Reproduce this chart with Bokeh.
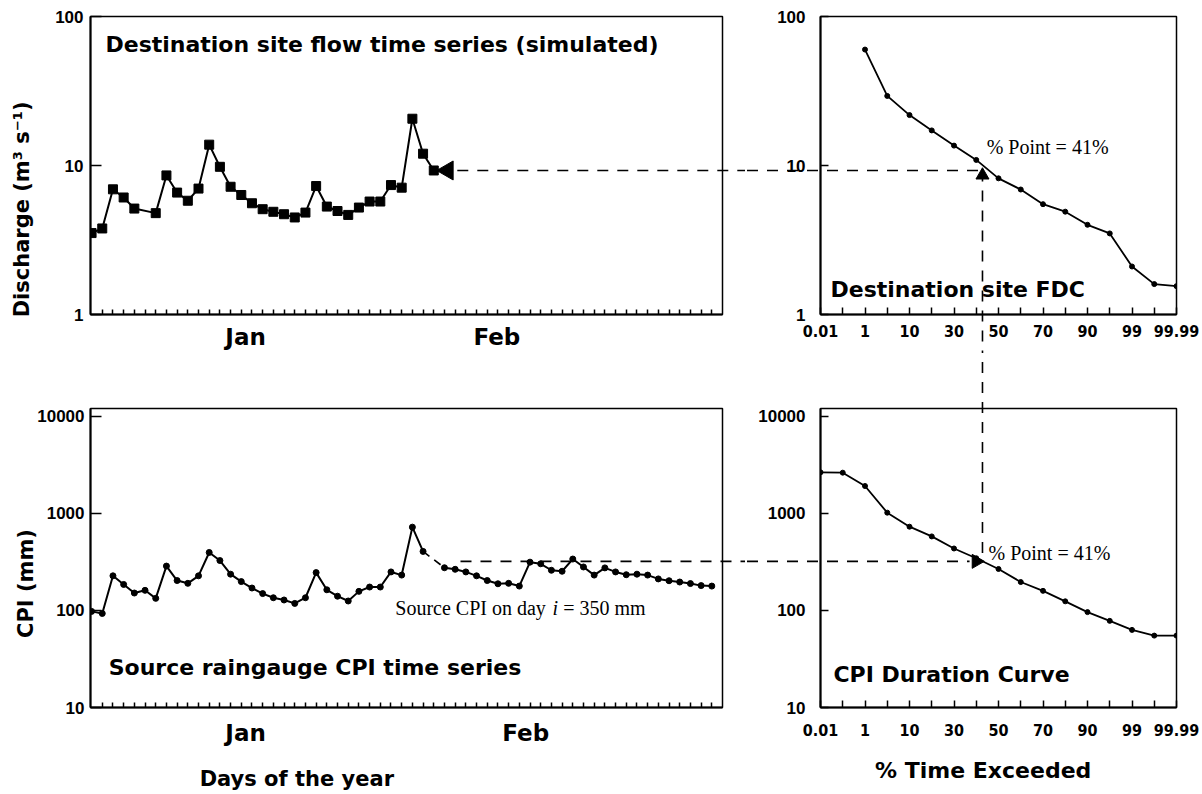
import math
from bokeh.plotting import figure
from bokeh.layouts import row, column
from bokeh.models import FixedTicker, NumeralTickFormatter, Label, Range1d
from bokeh.embed import file_html
from bokeh.resources import INLINE

# ---------------- data ----------------
flow_days = [0, 1, 2, 3, 4, 6, 7, 8, 9, 10, 11, 12, 13, 14, 15, 16, 17, 18, 19,
             20, 21, 22, 23, 24, 25, 26, 27, 28, 29, 30, 31, 32]
flow_q = [3.52, 3.78, 6.92, 6.1, 5.14, 4.79, 8.58, 6.58, 5.8, 7.0, 13.8, 9.8, 7.2,
          6.34, 5.58, 5.09, 4.89, 4.71, 4.48, 4.83, 7.28, 5.3, 4.95, 4.66, 5.22,
          5.73, 5.73, 7.39, 7.1, 20.6, 12.0, 9.26]

cpi_days_a = list(range(0, 32))
cpi_a = [97.7, 93, 227, 185, 151, 161, 133, 286, 203, 190, 227, 395, 326, 236, 198,
         170, 149, 135, 128, 118, 135, 245, 163, 140, 125, 157, 174, 174, 249, 231,
         720, 405]
cpi_days_b = list(range(33, 59))
cpi_b = [275, 265, 249, 227, 203, 188, 190, 178, 314, 302, 259, 253, 338, 280, 231,
         274, 249, 233, 236, 231, 211, 202, 196, 189, 180, 178]

pct_labels = ["0.01", "", "1", "", "10", "", "30", "", "50", "", "70", "", "90", "",
              "99", "", "99.99"]
pct_idx = list(range(len(pct_labels)))

fdc_idx = list(range(2, 17))
fdc_q = [60, 29.3, 21.8, 17.2, 13.6, 10.9, 8.2, 6.9, 5.5, 4.9, 4.0, 3.5, 2.1, 1.6, 1.55]

cdc_idx = list(range(0, 17))
cdc_cpi = [2640, 2620, 1910, 1015, 728, 578, 434, 344, 267, 196, 159, 124, 96, 78,
           63, 55, 55]

month_labels = ["Jan", "Feb"]
top_month_pos = [14.4, 37.9]
bot_month_pos = [14.4, 40.6]
day_ticks = list(range(1, 59))

day_i = 33.3          # day i (position of the marker)
pct_point = 7.28      # 41 % on the probability index axis
flow_point = 9.26     # destination flow on day i
cpi_point = 320       # source CPI on day i

TITLE_FONT = "DejaVu Sans"
NUM_FONT = "Liberation Sans"
COND_FONT = "DejaVu Sans Condensed"
SERIF = "Liberation Serif"
DASH = "11 9"
NB = "\u00a0"   # non-breaking space used to shift axis titles off-centre


def base(width, height, xr, yr, bl, br, bt, bb):
    p = figure(width=width, height=height, x_range=xr, y_range=yr, y_axis_type="log",
               output_backend="svg", toolbar_location=None,
               min_border_left=bl, min_border_right=br,
               min_border_top=bt, min_border_bottom=bb)
    p.title.visible = False
    p.grid.visible = False
    p.background_fill_color = "white"
    p.border_fill_color = "white"
    p.outline_line_color = "black"
    p.outline_line_width = 1.5
    p.outline_line_alpha = 1
    for ax in (p.xaxis[0], p.yaxis[0]):
        ax.axis_line_color = "black"
        ax.axis_line_width = 2
        ax.major_tick_line_color = "black"
        ax.major_tick_line_width = 1.5
        ax.minor_tick_line_color = "black"
        ax.minor_tick_line_width = 1.5
        ax.major_label_text_color = "black"
        ax.major_label_text_font_style = "bold"
    return p


def day_axis(p, month_pos, standoff):
    ax = p.xaxis[0]
    ax.ticker = FixedTicker(ticks=month_pos, minor_ticks=day_ticks)
    ax.major_label_overrides = {pos: lab for pos, lab in zip(month_pos, month_labels)}
    ax.major_tick_line_color = None
    ax.minor_tick_in = 5
    ax.minor_tick_out = 0
    ax.major_label_text_font = TITLE_FONT
    ax.major_label_text_font_size = "23px"
    ax.major_label_standoff = standoff


def pct_axis(p, standoff):
    ax = p.xaxis[0]
    ax.ticker = FixedTicker(ticks=pct_idx)
    ax.major_label_overrides = {i: lab for i, lab in zip(pct_idx, pct_labels)}
    ax.major_tick_in = 7
    ax.major_tick_out = 0
    ax.major_label_text_font = COND_FONT
    ax.major_label_text_font_size = "16px"
    ax.major_label_standoff = standoff


def log_axis(p, ticks, standoff, tick_in):
    ax = p.yaxis[0]
    ax.ticker = FixedTicker(ticks=ticks)
    ax.formatter = NumeralTickFormatter(format="0")
    ax.major_tick_in = tick_in
    ax.major_tick_out = 0
    ax.major_label_text_font = NUM_FONT
    ax.major_label_text_font_size = "17px"
    ax.major_label_standoff = standoff


def axis_title(ax, text, standoff, size="21px"):
    ax.axis_label = text
    ax.axis_label_text_font = TITLE_FONT
    ax.axis_label_text_font_size = size
    ax.axis_label_text_font_style = "bold"
    ax.axis_label_text_color = "black"
    ax.axis_label_standoff = standoff


def dash(p, xs, ys):
    # connector lines drawn on the overlay level so they may leave the frame
    p.line(xs, ys, line_color="black", line_width=1.6, line_dash=DASH,
           level="overlay")


def text_label(p, x, y, text, size="22px", font=TITLE_FONT, style="bold"):
    p.add_layout(Label(x=x, y=y, text=text, text_font=font, text_font_size=size,
                       text_font_style=style, text_align="left",
                       text_baseline="middle", text_color="black"))


LW, RW = 745, 456
TH, BH = 352, 441

# ---------------- top left: destination flow time series ----------------
p1 = base(LW, TH, Range1d(-0.1, 59.0), Range1d(1, 100), 90, 23, 16, 38)
day_axis(p1, top_month_pos, 3)
log_axis(p1, [1, 10, 100], 7, 11)
axis_title(p1.yaxis[0], "Discharge (m³ s⁻¹)" + NB * 12, 18)
p1.line(flow_days, flow_q, line_color="black", line_width=2)
p1.scatter(flow_days, flow_q, marker="square", size=9, color="black")
p1.scatter([day_i], [flow_point], marker="triangle", angle=math.pi / 2, size=19,
           color="black")
dash(p1, [day_i + 0.9, 75], [flow_point, flow_point])
text_label(p1, 1.3, 64.9, "Destination site flow time series (simulated)")

# ---------------- top right: destination FDC ----------------
p2 = base(RW, TH, Range1d(0, 16), Range1d(1, 100), 75, 25, 16, 38)
pct_axis(p2, 10)
log_axis(p2, [1, 10, 100], 15, 8)
p2.line(fdc_idx, fdc_q, line_color="black", line_width=1.8)
p2.scatter(fdc_idx, fdc_q, marker="circle", size=5, color="black")
dash(p2, [-6, pct_point], [flow_point, flow_point])
dash(p2, [pct_point, pct_point], [flow_point, 0.05])
p2.scatter([pct_point], [8.6], marker="triangle", size=13, color="black")
text_label(p2, 0.45, 1.47, "Destination site FDC")
text_label(p2, 7.47, 13.3, "% Point = 41%", size="20px", font=SERIF, style="normal")

# ---------------- bottom left: source CPI time series ----------------
p3 = base(LW, BH, Range1d(-0.1, 59.0), Range1d(10, 12000), 90, 23, 56, 85)
day_axis(p3, bot_month_pos, 6)
log_axis(p3, [10, 100, 1000, 10000], 6, 11)
axis_title(p3.yaxis[0], "CPI (mm)" + NB * 7, -4)
axis_title(p3.xaxis[0], "Days of the year" + NB * 30, 18)
p3.line(cpi_days_a, cpi_a, line_color="black", line_width=2)
p3.line(cpi_days_b, cpi_b, line_color="black", line_width=2)
p3.line([cpi_days_a[-1], cpi_days_b[0]], [cpi_a[-1], cpi_b[0]], line_color="black",
        line_width=1.6, line_dash="8 6")
p3.scatter(cpi_days_a + cpi_days_b, cpi_a + cpi_b, marker="circle", size=6,
           color="black")
dash(p3, [34.5, 75], [cpi_point, cpi_point])
text_label(p3, 1.6, 26, "Source raingauge CPI time series")
text_label(p3, 28.4, 105, "Source CPI on day", size="20px", font=SERIF, style="normal")
text_label(p3, 43.1, 105, "i", size="20px", font=SERIF, style="italic")
text_label(p3, 44.1, 105, "= 350 mm", size="20px", font=SERIF, style="normal")

# ---------------- bottom right: CPI duration curve ----------------
p4 = base(RW, BH, Range1d(0, 16), Range1d(10, 12000), 75, 25, 56, 85)
pct_axis(p4, 16)
log_axis(p4, [10, 100, 1000, 10000], 15, 8)
axis_title(p4.xaxis[0], "% Time Exceeded" + NB * 4, 19, size="22px")
p4.line(cdc_idx, cdc_cpi, line_color="black", line_width=1.8)
p4.scatter(cdc_idx, cdc_cpi, marker="circle", size=5, color="black")
dash(p4, [pct_point, pct_point], [1e6, cpi_point])
dash(p4, [-6, 6.7], [cpi_point, cpi_point])
p4.scatter([7.0], [cpi_point], marker="triangle", angle=-math.pi / 2, size=14,
           color="black")
text_label(p4, 0.58, 21.8, "CPI Duration Curve")
text_label(p4, 7.55, 389, "% Point = 41%", size="20px", font=SERIF, style="normal")

layout = column(row(p1, p2), row(p3, p4))
open("out.html", "w").write(file_html(layout, INLINE))
